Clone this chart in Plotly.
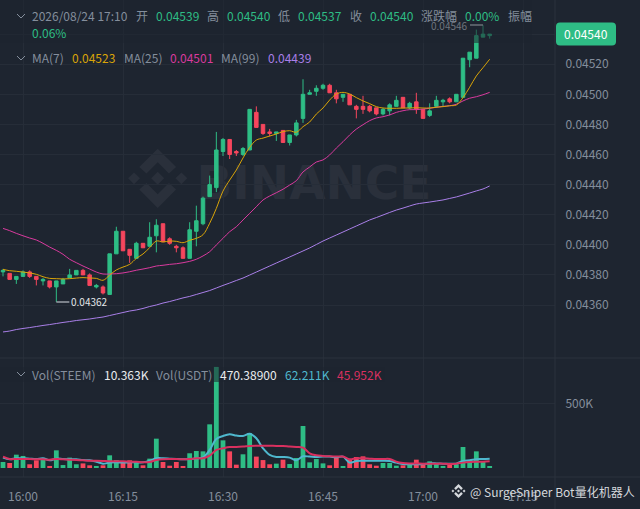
import pandas as pd
import plotly.graph_objects as go

times = pd.date_range("2026-08-24 15:57", "2026-08-24 17:10", freq="1min")

opens = [0.04382, 0.04381, 0.04377, 0.04379, 0.04382, 0.04379, 0.04376, 0.04376, 0.04372, 0.04374,
         0.04378, 0.04380, 0.04383, 0.04380, 0.04372, 0.04372, 0.04367, 0.04394, 0.04409, 0.04397,
         0.04391, 0.04401, 0.04399, 0.04406, 0.04414, 0.04404, 0.04399, 0.04398, 0.04391, 0.04409,
         0.04414, 0.04432, 0.04438, 0.04462, 0.04470, 0.04462, 0.04460, 0.04463, 0.04488, 0.04480,
         0.04475, 0.04474, 0.04476, 0.04468, 0.04473, 0.04484, 0.04500, 0.04502, 0.04504, 0.04506,
         0.04501, 0.04498, 0.04500, 0.04492, 0.04492, 0.04492, 0.04491, 0.04487, 0.04489, 0.04492,
         0.04498, 0.04491, 0.04495, 0.04490, 0.04486, 0.04492, 0.04495, 0.04497, 0.04495, 0.04498,
         0.04523, 0.04524, 0.04538, 0.04539]
highs = [0.04384, 0.04381, 0.04379, 0.04383, 0.04383, 0.04379, 0.04378, 0.04376, 0.04376, 0.04378,
         0.04384, 0.04383, 0.04384, 0.04381, 0.04374, 0.04373, 0.04394, 0.04412, 0.04409, 0.04397,
         0.04402, 0.04401, 0.04415, 0.04417, 0.04414, 0.04405, 0.04400, 0.04399, 0.04415, 0.04426,
         0.04432, 0.04446, 0.04475, 0.04471, 0.04470, 0.04463, 0.04465, 0.04490, 0.04492, 0.04480,
         0.04477, 0.04475, 0.04476, 0.04473, 0.04483, 0.04510, 0.04503, 0.04506, 0.04507, 0.04507,
         0.04503, 0.04500, 0.04500, 0.04493, 0.04499, 0.04493, 0.04491, 0.04491, 0.04494, 0.04499,
         0.04498, 0.04495, 0.04501, 0.04490, 0.04494, 0.04499, 0.04497, 0.04498, 0.04500, 0.04524,
         0.04528, 0.04543, 0.04546, 0.04540]
lows = [0.04379, 0.04377, 0.04374, 0.04379, 0.04378, 0.04373, 0.04373, 0.04371, 0.04362, 0.04374,
        0.04378, 0.04380, 0.04380, 0.04373, 0.04371, 0.04367, 0.04367, 0.04394, 0.04396, 0.04388,
        0.04391, 0.04398, 0.04399, 0.04395, 0.04402, 0.04400, 0.04395, 0.04391, 0.04391, 0.04399,
        0.04413, 0.04432, 0.04435, 0.04459, 0.04457, 0.04459, 0.04459, 0.04463, 0.04478, 0.04473,
        0.04472, 0.04469, 0.04468, 0.04466, 0.04472, 0.04481, 0.04500, 0.04499, 0.04503, 0.04501,
        0.04494, 0.04495, 0.04493, 0.04484, 0.04487, 0.04488, 0.04486, 0.04486, 0.04486, 0.04492,
        0.04491, 0.04490, 0.04487, 0.04484, 0.04485, 0.04491, 0.04492, 0.04494, 0.04495, 0.04498,
        0.04518, 0.04524, 0.04538, 0.04537]
closes = [0.04383, 0.04377, 0.04379, 0.04382, 0.04379, 0.04377, 0.04377, 0.04372, 0.04376, 0.04377,
          0.04380, 0.04383, 0.04380, 0.04373, 0.04373, 0.04368, 0.04394, 0.04409, 0.04396, 0.04393,
          0.04401, 0.04398, 0.04405, 0.04413, 0.04402, 0.04401, 0.04398, 0.04391, 0.04410, 0.04416,
          0.04431, 0.04440, 0.04463, 0.04470, 0.04460, 0.04461, 0.04464, 0.04490, 0.04478, 0.04474,
          0.04474, 0.04475, 0.04468, 0.04473, 0.04481, 0.04500, 0.04501, 0.04504, 0.04506, 0.04501,
          0.04497, 0.04500, 0.04493, 0.04490, 0.04490, 0.04489, 0.04487, 0.04490, 0.04493, 0.04496,
          0.04491, 0.04494, 0.04490, 0.04484, 0.04489, 0.04496, 0.04496, 0.04495, 0.04500, 0.04524,
          0.04528, 0.04539, 0.04540, 0.04540]

ma7 = [0.043837, 0.043828, 0.043824, 0.043819, 0.043813, 0.043804, 0.043788, 0.043777, 0.043775, 0.043773,
       0.043775, 0.043779, 0.043782, 0.043779, 0.043777, 0.043764, 0.043799, 0.043833, 0.043852, 0.043870,
       0.043910, 0.043939, 0.043981, 0.044025, 0.044019, 0.044025, 0.044023, 0.044014, 0.044030, 0.044043,
       0.044067, 0.044143, 0.044242, 0.044357, 0.044430, 0.044497, 0.044577, 0.044647, 0.044696, 0.044709,
       0.044723, 0.044736, 0.044752, 0.044758, 0.044748, 0.044785, 0.044816, 0.044869, 0.044909, 0.044962,
       0.045002, 0.045013, 0.045002, 0.044978, 0.044956, 0.044938, 0.044918, 0.044909, 0.044907, 0.044907,
       0.044909, 0.044909, 0.044911, 0.044909, 0.044909, 0.044914, 0.044918, 0.044924, 0.044929, 0.044978,
       0.045047, 0.045122, 0.045177, 0.045233]
ma25 = [0.044109, 0.044094, 0.044076, 0.044060, 0.044045, 0.044032, 0.044010, 0.043985, 0.043963, 0.043937,
        0.043904, 0.043881, 0.043859, 0.043839, 0.043819, 0.043806, 0.043806, 0.043808, 0.043813, 0.043821,
        0.043831, 0.043839, 0.043848, 0.043859, 0.043864, 0.043870, 0.043874, 0.043881, 0.043890, 0.043904,
        0.043926, 0.043954, 0.043999, 0.044043, 0.044087, 0.044120, 0.044165, 0.044209, 0.044253, 0.044298,
        0.044324, 0.044346, 0.044369, 0.044397, 0.044426, 0.044484, 0.044517, 0.044550, 0.044564, 0.044597,
        0.044643, 0.044685, 0.044730, 0.044769, 0.044798, 0.044825, 0.044843, 0.044851, 0.044863, 0.044880,
        0.044891, 0.044898, 0.044898, 0.044902, 0.044907, 0.044914, 0.044920, 0.044924, 0.044934, 0.044956,
        0.044974, 0.044984, 0.044997, 0.045013]
ma99 = [0.043421, 0.043427, 0.043437, 0.043444, 0.043450, 0.043457, 0.043464, 0.043470, 0.043477, 0.043484,
        0.043490, 0.043497, 0.043502, 0.043507, 0.043514, 0.043520, 0.043530, 0.043540, 0.043550, 0.043560,
        0.043567, 0.043577, 0.043590, 0.043600, 0.043613, 0.043623, 0.043635, 0.043647, 0.043657, 0.043670,
        0.043683, 0.043696, 0.043713, 0.043730, 0.043746, 0.043763, 0.043779, 0.043799, 0.043819, 0.043839,
        0.043859, 0.043879, 0.043899, 0.043919, 0.043939, 0.043959, 0.043979, 0.044002, 0.044025, 0.044045,
        0.044065, 0.044085, 0.044105, 0.044125, 0.044145, 0.044165, 0.044181, 0.044198, 0.044215, 0.044231,
        0.044244, 0.044258, 0.044271, 0.044278, 0.044284, 0.044291, 0.044298, 0.044308, 0.044318, 0.044331,
        0.044344, 0.044358, 0.044371, 0.044391]

volumes = [47, 39, 104, 94, 29, 60, 78, 16, 138, 23, 81, 29, 36, 21, 16, 21, 99, 62, 47, 60, 42, 21, 73, 229,
           47, 18, 47, 10, 115, 133, 130, 341, 789, 216, 130, 26, 107, 273, 89, 62, 29, 34, 65, 31, 78, 328,
           44, 70, 36, 21, 86, 13, 68, 86, 91, 29, 18, 39, 39, 18, 21, 26, 65, 39, 52, 39, 16, 26, 29, 164,
           60, 130, 47, 10.363]
vol_ma_fast = [81, 68, 76, 76, 73, 70, 76, 60, 73, 70, 68, 68, 62, 60, 49, 34, 42, 44, 42, 44, 44, 44, 57, 76,
               76, 73, 70, 68, 70, 76, 83, 141, 227, 250, 263, 253, 250, 268, 232, 154, 102, 86, 86, 81, 60, 91,
               89, 86, 89, 89, 83, 89, 42, 55, 57, 57, 57, 57, 55, 42, 31, 29, 29, 29, 36, 36, 34, 34, 34, 55,
               60, 68, 70, 73]
vol_ma_slow = [89, 70, 70, 70, 70, 68, 68, 65, 70, 68, 65, 62, 60, 57, 57, 55, 52, 52, 52, 49, 49, 44, 47, 62,
               68, 70, 70, 68, 70, 76, 76, 96, 141, 154, 164, 164, 167, 172, 174, 174, 174, 172, 172, 167, 164, 159,
               115, 99, 94, 91, 89, 89, 68, 76, 76, 73, 70, 70, 70, 49, 39, 36, 36, 34, 34, 34, 34, 31, 34, 42,
               47, 49, 49, 52]

price_ticks = [0.0436, 0.0438, 0.0440, 0.0442, 0.0444, 0.0446, 0.0448, 0.0450, 0.0452, 0.0454]
price_labels = ["0.04360", "0.04380", "0.04400", "0.04420", "0.04440", "0.04460", "0.04480", "0.04500", "0.04520", ""]
time_ticks = ["2026-08-24 16:00", "2026-08-24 16:15", "2026-08-24 16:30", "2026-08-24 16:45", "2026-08-24 17:00", "2026-08-24 17:15"]
time_labels = ["16:00", "16:15", "16:30", "16:45", "17:00", "17:15"]

BG = "#1E2530"
GRID = "#262D38"
SEP = "#2B323D"
GREY = "#848E9C"
GREEN = "#2EBD85"
RED = "#F6465D"
FONT = "Noto Sans CJK SC"
W, H = 640, 509


def px(x, y):
    return x / W, 1 - y / H


def poly(points, color, layer="below"):
    path = ""
    for n, (x, y) in enumerate(points):
        a, b = px(x, y)
        path += ("M" if n == 0 else "L") + f"{a:.5f},{b:.5f} "
    return dict(type="path", xref="paper", yref="paper", path=path + "Z", fillcolor=color,
                line=dict(width=0), layer=layer)


def logo(cx, cy, r, color, layer="below"):
    out = []
    for dx, half in ((-0.8, 0.2), (0, 0.22), (0.8, 0.2)):
        out.append(poly([(cx + dx * r, cy - half * r), (cx + (dx + half) * r, cy), (cx + dx * r, cy + half * r),
                         (cx + (dx - half) * r, cy)], color, layer))
    for s in (-1, 1):
        out.append(poly([(cx, cy + s * r), (cx + 0.62 * r, cy + s * 0.38 * r), (cx + 0.38 * r, cy + s * 0.16 * r),
                         (cx, cy + s * 0.54 * r), (cx - 0.38 * r, cy + s * 0.16 * r),
                         (cx - 0.62 * r, cy + s * 0.38 * r)], color, layer))
    return out


def chevron(y):
    a0, b0 = px(17, y - 2)
    a1, b1 = px(21, y + 2)
    a2, b2 = px(25, y - 2)
    return dict(type="path", xref="paper", yref="paper", path=f"M{a0},{b0} L{a1},{b1} L{a2},{b2}",
                line=dict(color=GREY, width=1))


def label(x, y, text, color=GREY, size=12):
    a, b = px(x, y)
    return dict(xref="paper", yref="paper", x=a, y=b, text=text, showarrow=False, xanchor="left", yanchor="middle",
                xshift=-1, font=dict(color=color, size=size, family=FONT))


fig = go.Figure()
fig.add_trace(go.Candlestick(x=times, open=opens, high=highs, low=lows, close=closes, yaxis="y", whiskerwidth=0,
                             increasing=dict(line=dict(color=GREEN, width=1), fillcolor=GREEN),
                             decreasing=dict(line=dict(color=RED, width=1), fillcolor=RED)))
for vals, color in [(ma99, "#A97FE8"), (ma25, "#D93A9E"), (ma7, "#D9A408")]:
    fig.add_trace(go.Scatter(x=times, y=vals, mode="lines", yaxis="y", line=dict(color=color, width=1, shape="spline")))

vol_colors = [GREEN if c >= o else RED for o, c in zip(opens, closes)]
fig.add_trace(go.Bar(x=times, y=[v * 1000 for v in volumes], yaxis="y2", marker=dict(color=vol_colors, line=dict(width=0))))
fig.add_trace(go.Scatter(x=times, y=[v * 1000 for v in vol_ma_fast], mode="lines", yaxis="y2",
                         line=dict(color="#4FB8CE", width=2, shape="spline")))
fig.add_trace(go.Scatter(x=times, y=[v * 1000 for v in vol_ma_slow], mode="lines", yaxis="y2",
                         line=dict(color="#D9305F", width=2, shape="spline")))

shapes = logo(157.7, 178.3, 29.6, "#2A303B")
shapes.append(dict(type="rect", xref="paper", yref="paper", x0=195 / W, x1=433 / W, y0=1 - 206 / H, y1=1 - 153 / H,
                   line=dict(width=0), layer="below",
                   label=dict(text="<b>BINANCE</b>", textposition="middle center",
                              font=dict(size=47, color="#2A303B", family="DejaVu Sans"))))
shapes += [
    dict(type="rect", xref="paper", yref="paper", x0=0, x1=532 / W, y0=1 - 43 / H, y1=1, fillcolor=BG, opacity=0.55,
         line=dict(width=0), layer="above"),
    dict(type="rect", xref="paper", yref="paper", x0=0, x1=385 / W, y0=1 - 382 / H, y1=1 - 367 / H, fillcolor=BG,
         opacity=0.55, line=dict(width=0), layer="above"),
    dict(type="line", xref="paper", yref="paper", x0=555 / W, x1=555 / W, y0=0, y1=1, line=dict(color=SEP, width=1)),
    dict(type="line", xref="paper", yref="paper", x0=0, x1=1, y0=1 - 358 / H, y1=1 - 358 / H, line=dict(color=SEP, width=1)),
    dict(type="line", xref="paper", yref="paper", x0=0, x1=1, y0=1 - 477 / H, y1=1 - 477 / H, line=dict(color=SEP, width=1)),
    chevron(16), chevron(58), chevron(374),
]
# last price tag, rounded
l, t = px(556, 22.5)
r, b = px(616, 45.5)
cx = 4 / W
cy = 4 / H
shapes.append(dict(type="path", xref="paper", yref="paper", fillcolor=GREEN, line=dict(width=0), layer="above",
                   path=f"M{l + cx},{t} L{r - cx},{t} Q{r},{t} {r},{t - cy} L{r},{b + cy} Q{r},{b} {r - cx},{b} "
                        f"L{l + cx},{b} Q{l},{b} {l},{b + cy} L{l},{t - cy} Q{l},{t} {l + cx},{t} Z"))
shapes += logo(458.5, 491, 7, "#D5D8DC", layer="above")

annotations = [
    label(31, 16, "2026/08/24 17:10"), label(135, 16, "开"), label(154.7, 16, "0.04539", GREEN),
    label(206, 16, "高"), label(226, 16, "0.04540", GREEN), label(277, 16, "低"), label(297.3, 16, "0.04537", GREEN),
    label(349, 16, "收"), label(368.7, 16, "0.04540", GREEN), label(420, 16, "涨跌幅"), label(464, 16, "0.00%", GREEN),
    label(506.7, 16, "振幅"), label(31, 33, "0.06%", GREEN),
    label(31, 58, "MA(7)"), label(71, 58, "0.04523", "#D9A408"), label(122.7, 58, "MA(25)"),
    label(168.7, 58, "0.04501", "#D93A9E"), label(220, 58, "MA(99)"), label(266.7, 58, "0.04439", "#A97FE8"),
    label(31, 374, "Vol(STEEM)"), label(103, 374, "10.363K", "#EAECEF"), label(155, 374, "Vol(USDT)"),
    label(219, 374, "470.38900", "#EAECEF"), label(284, 374, "62.211K", "#4FB8CE"), label(336, 374, "45.952K", "#D9305F"),
    label(469, 491, "@ SurgeSniper Bot量化机器人", "#D5D8DC", 12),
    dict(xref="paper", yref="paper", x=586 / W, y=1 - 34 / H, text="0.04540", showarrow=False,
         xanchor="center", yanchor="middle", font=dict(color="#FFFFFF", size=12, family=FONT)),
    dict(x=times[8], y=0.04362, xref="x", yref="y", text="0.04362", showarrow=True, arrowhead=0, arrowwidth=1.5,
         arrowcolor="#9AA0A8", ax=13, ay=0, xanchor="left", standoff=0, font=dict(color="#E3E5E8", size=10, family=FONT)),
    dict(x=times[72], y=0.04546, xref="x", yref="y", text="0.04546", showarrow=True, arrowhead=0, arrowwidth=1.5,
         arrowcolor="#6A7078", ax=-13, ay=0, xanchor="right", standoff=0, font=dict(color="#6F757E", size=10, family=FONT)),
]

fig.update_layout(
    width=W, height=H, margin=dict(l=0, r=0, t=0, b=0), paper_bgcolor=BG, plot_bgcolor=BG, showlegend=False,
    boxgap=0.25, bargap=0.28, hovermode=False, shapes=shapes, annotations=annotations,
    font=dict(family=FONT, color=GREY, size=12),
    xaxis=dict(domain=[0, 555 / W], anchor="y2", range=["2026-08-24 15:56:33", "2026-08-24 17:19:48"],
               rangeslider=dict(visible=False), tickvals=time_ticks, ticktext=time_labels, gridcolor=GRID, gridwidth=1,
               showline=False, zeroline=False, ticks="outside", ticklen=9, tickcolor="rgba(0,0,0,0)",
               tickfont=dict(color=GREY, size=12)),
    yaxis=dict(domain=[1 - 358 / H, 1], anchor="x", side="right", range=[0.0432478, 0.0456267],
               tickvals=price_ticks, ticktext=price_labels, gridcolor=GRID, gridwidth=1, zeroline=False,
               ticks="outside", ticklen=7, tickcolor="rgba(0,0,0,0)", tickfont=dict(color=GREY, size=12)),
    yaxis2=dict(domain=[1 - 477 / H, 1 - 358 / H], anchor="x", side="right", range=[-70300, 859000],
                tickvals=[500000], ticktext=["500K"], gridcolor=GRID, gridwidth=1, zeroline=False,
                ticks="outside", ticklen=7, tickcolor="rgba(0,0,0,0)", tickfont=dict(color=GREY, size=12)),
)

fig.write_html("out.html", config=dict(displayModeBar=False), post_script="document.body.style.margin='0';")
